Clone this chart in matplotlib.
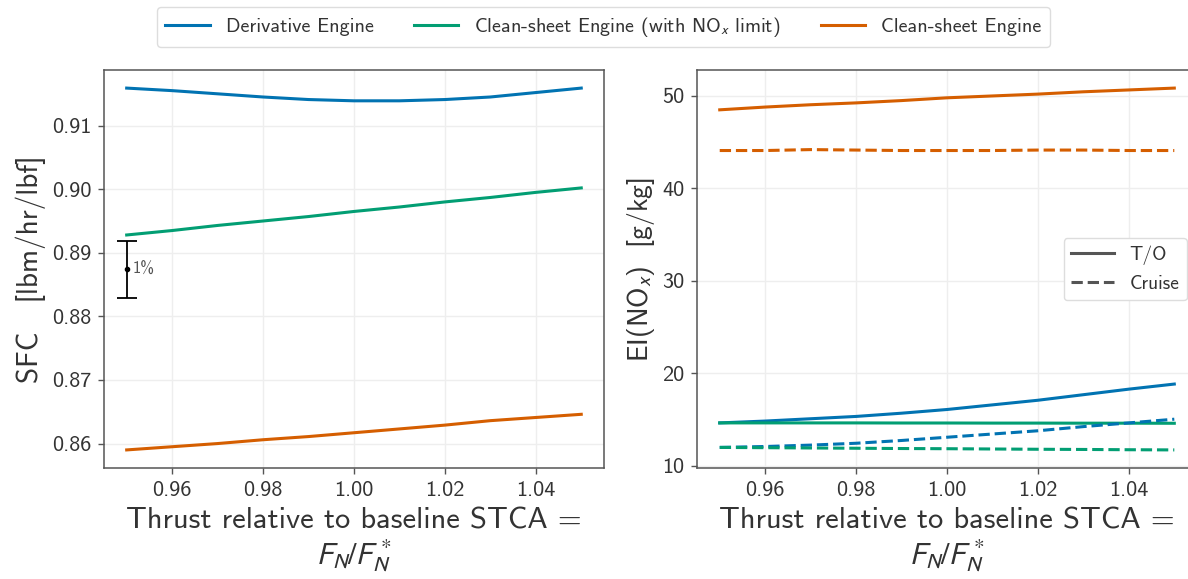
import numpy as np
import matplotlib
matplotlib.use("Agg")
import matplotlib.pyplot as plt
from matplotlib.lines import Line2D

# thrust ratio F_N / F_N*
thrust = [0.95, 0.96, 0.97, 0.98, 0.99, 1.00, 1.01, 1.02, 1.03, 1.04, 1.05]

# SFC [lbm/hr/lbf]
sfc_derivative = [0.9159, 0.9155, 0.9150, 0.9145, 0.9141, 0.9139, 0.9139, 0.9141, 0.9145, 0.9152, 0.9159]
sfc_clean_nox = [0.8928, 0.8935, 0.8943, 0.8950, 0.8957, 0.8965, 0.8972, 0.8980, 0.8987, 0.8995, 0.9002]
sfc_clean = [0.8590, 0.8595, 0.8600, 0.8606, 0.8611, 0.8617, 0.8623, 0.8629, 0.8636, 0.8641, 0.8646]

# EI(NOx) [g/kg], take-off and cruise
ei_to_derivative = [14.65, 14.85, 15.1, 15.35, 15.7, 16.1, 16.6, 17.1, 17.7, 18.3, 18.85]
ei_to_clean_nox = [14.65, 14.65, 14.65, 14.65, 14.64, 14.64, 14.63, 14.63, 14.62, 14.62, 14.61]
ei_to_clean = [48.5, 48.8, 49.05, 49.25, 49.5, 49.8, 50.0, 50.2, 50.45, 50.65, 50.85]
ei_cr_derivative = [12.0, 12.1, 12.25, 12.45, 12.75, 13.1, 13.45, 13.8, 14.25, 14.65, 15.05]
ei_cr_clean_nox = [12.0, 11.97, 11.94, 11.91, 11.88, 11.86, 11.83, 11.8, 11.78, 11.75, 11.73]
ei_cr_clean = [44.1, 44.1, 44.2, 44.15, 44.1, 44.1, 44.1, 44.15, 44.15, 44.1, 44.1]

# 1% reference bar
ref_x = 0.95
ref_center = 0.8874
ref_frac = 0.01

labels = ["Derivative Engine", "Clean-sheet Engine (with NO$_{\\mathsf{x}}$ limit)", "Clean-sheet Engine"]
colors = ["#0173B2", "#029E73", "#D55E00"]

plt.rcParams["font.family"] = ["cmss10", "DejaVu Sans"]
plt.rcParams["mathtext.fontset"] = "stixsans"
plt.rcParams["axes.unicode_minus"] = False
plt.rcParams["text.color"] = "#333333"
plt.rcParams["axes.labelcolor"] = "#333333"
plt.rcParams["xtick.color"] = "#333333"
plt.rcParams["ytick.color"] = "#333333"

fig = plt.figure(figsize=(11.88, 5.79), dpi=100)
ax1 = fig.add_axes([0.0875, 0.1917, 0.4209, 0.6874])
ax2 = fig.add_axes([0.5867, 0.1917, 0.4209, 0.6874])

lw = 2.2
xlabel = "Thrust relative to baseline STCA =\n$F_N/F_N^*$"

# SFC
for y, c, lab in zip([sfc_derivative, sfc_clean_nox, sfc_clean], colors, labels):
    ax1.plot(thrust, y, color=c, lw=lw, label=lab)
ax1.errorbar([ref_x], [ref_center], yerr=[ref_center * ref_frac / 2], fmt="o", color="black",
             ms=3, capsize=7, elinewidth=1.3, capthick=1.3)
ax1.annotate("1%", xy=(ref_x, ref_center), xytext=(4, 0), textcoords="offset points",
             va="center", ha="left", fontsize=12, color="#555555")
ax1.set_ylabel("SFC   [lbm/hr/lbf]", fontsize=21)
ax1.set_yticks([0.86, 0.87, 0.88, 0.89, 0.90, 0.91])

# EI(NOx)
for y, c in zip([ei_to_derivative, ei_to_clean_nox, ei_to_clean], colors):
    ax2.plot(thrust, y, color=c, lw=lw)
for y, c in zip([ei_cr_derivative, ei_cr_clean_nox, ei_cr_clean], colors):
    ax2.plot(thrust, y, color=c, lw=lw, ls="--")
ax2.set_ylabel("EI(NO$_{\\mathsf{x}}$)  [g/kg]", fontsize=20)
ax2.set_yticks([10, 20, 30, 40, 50])

phase_handles = [Line2D([], [], color="#555555", lw=lw, ls="-"),
                 Line2D([], [], color="#555555", lw=lw, ls="--")]
ax2.legend(phase_handles, ["T/O", "Cruise"], loc="center right", fontsize=14,
           handlelength=2.2, framealpha=1, edgecolor="#dddddd")

for ax in (ax1, ax2):
    ax.set_xticks([0.96, 0.98, 1.00, 1.02, 1.04])
    ax.set_xticklabels(["0.96", "0.98", "1.00", "1.02", "1.04"])
    ax.set_xlabel(xlabel, fontsize=22, linespacing=1.1, labelpad=6)
    ax.tick_params(labelsize=16, length=4, width=1, pad=5, color="#555555")
    ax.grid(True, color="#eeeeee", lw=1)
    ax.set_axisbelow(True)
    for s in ax.spines.values():
        s.set_color("#555555")
        s.set_linewidth(1.1)

fig.legend(loc="center", bbox_to_anchor=(0.508, 0.953), ncol=3, fontsize=14.5,
           handlelength=2.2, columnspacing=2.0, framealpha=1, edgecolor="#dddddd")

fig.savefig("out.png", dpi=100)
